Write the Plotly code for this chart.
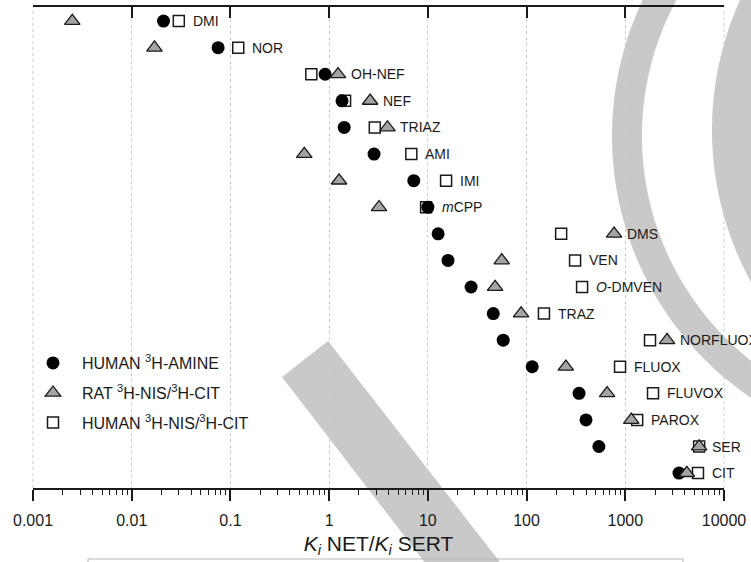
import numpy as np
import plotly.graph_objects as go

# Compounds, ranked by NET/SERT selectivity (top = most NET-selective)
drugs = ["DMI", "NOR", "OH-NEF", "NEF", "TRIAZ", "AMI", "IMI", "mCPP", "DMS",
         "VEN", "O-DMVEN", "TRAZ", "NORFLUOX", "FLUOX", "FLUVOX", "PAROX", "SER", "CIT"]
drug_labels = ["DMI", "NOR", "OH-NEF", "NEF", "TRIAZ", "AMI", "IMI", "<i>m</i>CPP", "DMS",
               "VEN", "<i>O</i>-DMVEN", "TRAZ", "NORFLUOX", "FLUOX", "FLUVOX", "PAROX", "SER", "CIT"]

# Ki NET / Ki SERT ratios
human_amine = [0.021, 0.075, 0.91, 1.35, 1.42, 2.85, 7.2, 10.0, 12.7,
               16.0, 27.4, 46, 58, 114, 340, 400, 540, 3500]
rat_nis_cit = [0.0025, 0.017, 1.23, 2.6, 3.9, 0.56, 1.26, 3.2, 770,
               56, 48, 88, 2650, 250, 655, 1150, 5600, 4200]
human_nis_cit = [0.030, 0.12, 0.66, 1.45, 2.9, 6.8, 15.3, 9.6, 224,
                 310, 365, 150, 1780, 885, 1910, 1320, 5600, 5450]

decade_vals = [0.001, 0.01, 0.1, 1, 10, 100, 1000, 10000]
decade_text = ["0.001", "0.01", "0.1", "1", "10", "100", "1000", "10000"]
minor_vals = [m * d for d in decade_vals[:-1] for m in range(2, 10)]

FONT = "Liberation Sans, Arial, sans-serif"
INK = "#1a1a1a"
GRID = "#cdcdcd"
W, H = 751, 562
PL, PR, PT, PB = 33, 724, 7, 488   # plot-area edges (px)

rows = list(range(len(drugs)))

fig = go.Figure()

fig.add_trace(go.Scatter(
    x=human_nis_cit, y=rows, mode="markers", legendrank=3, legendgroup="c",
    name="HUMAN <sup>3</sup>H-NIS/<sup>3</sup>H-CIT",
    marker=dict(symbol="square", size=11, color="white", line=dict(color=INK, width=1.5)),
))
fig.add_trace(go.Scatter(
    x=human_amine, y=rows, mode="markers", legendrank=1, legendgroup="a",
    name="HUMAN <sup>3</sup>H-AMINE",
    marker=dict(symbol="circle", size=13, color="black", line=dict(color="black", width=0)),
))
fig.add_trace(go.Scatter(
    x=rat_nis_cit, y=rows, mode="markers", legendrank=2, legendgroup="b",
    name="RAT <sup>3</sup>H-NIS/<sup>3</sup>H-CIT",
    marker=dict(symbol="triangle-up", size=13.5, color="#a4a4a4", line=dict(color=INK, width=1.3)),
))
# carrier for the top frame axis
fig.add_trace(go.Scatter(x=[None], y=[None], xaxis="x2", showlegend=False, hoverinfo="skip"))

# compound names to the right of each row's right-most marker
annotations = []
for i, lab in enumerate(drug_labels):
    vals = {"a": human_amine[i], "b": rat_nis_cit[i], "c": human_nis_cit[i]}
    key = max(vals, key=vals.get)
    annotations.append(dict(
        x=np.log10(vals[key]), y=i, xref="x", yref="y", text=lab, showarrow=False,
        xanchor="left", yanchor="middle", xshift=11 if key == "b" else 12,
        font=dict(family=FONT, size=14, color=INK),
    ))


def to_paper(px, py):
    return (px - PL) / (PR - PL), (PB - py) / (PB - PT)


def poly_path(points):
    pts = [to_paper(x, y) for x, y in points]
    return "M " + " L ".join(f"{x:.5f},{y:.5f}" for x, y in pts) + " Z"


def ring(cx, cy, r_out, r_in, a0, a1, n=80):
    ang = np.linspace(a0, a1, n)
    outer = [(cx + r_out * np.cos(a), cy + r_out * np.sin(a)) for a in ang]
    inner = [(cx + r_in * np.cos(a), cy + r_in * np.sin(a)) for a in ang[::-1]]
    return outer + inner


WM = "#c9c9c9"
shapes = [
    # diagonal band
    dict(type="path", xref="paper", yref="paper", layer="below", line=dict(width=0), fillcolor=WM,
         path=poly_path([(282, 377), (328, 341), (545, 620), (469, 620)])),
    # arcs on the right
    dict(type="path", xref="paper", yref="paper", layer="below", line=dict(width=0), fillcolor=WM,
         path=poly_path(ring(928, 136, 316, 286, 2.0, 3.75))),
    dict(type="path", xref="paper", yref="paper", layer="below", line=dict(width=0), fillcolor=WM,
         path=poly_path(ring(1028, 130, 316, 250, 2.0, 3.9))),
    # dotted gridlines on the two range ends
    dict(type="line", xref="paper", yref="paper", layer="below", x0=0, x1=0, y0=0, y1=1,
         line=dict(color=GRID, width=1, dash="dot")),
    dict(type="line", xref="paper", yref="paper", layer="below", x0=1, x1=1, y0=0, y1=1,
         line=dict(color=GRID, width=1, dash="dot")),
    # caption frame under the axis title
    dict(type="rect", xref="paper", yref="paper", layer="below", fillcolor="rgba(0,0,0,0)",
         line=dict(color="#b5b5b5", width=1),
         x0=to_paper(88, 0)[0], x1=to_paper(683, 0)[0],
         y0=to_paper(0, 559)[1], y1=to_paper(0, 600)[1]),
]

fig.update_layout(
    width=W, height=H, autosize=False,
    margin=dict(l=PL, r=W - PR, t=PT, b=H - PB, pad=0),
    paper_bgcolor="white", plot_bgcolor="white",
    font=dict(family=FONT, color=INK),
    showlegend=True,
    legend=dict(x=to_paper(24, 0)[0], y=to_paper(0, 346)[1], xanchor="left", yanchor="top",
                bgcolor="rgba(0,0,0,0)", font=dict(family=FONT, size=16, color=INK),
                itemwidth=48, tracegroupgap=6),
    annotations=annotations,
    shapes=shapes,
    xaxis=dict(
        type="log", range=[-3, 4], automargin=False,
        tickmode="array", tickvals=decade_vals, ticktext=decade_text,
        ticks="outside", ticklen=11, tickwidth=1.6, tickcolor=INK,
        tickfont=dict(family=FONT, size=16, color=INK), ticklabelstandoff=6,
        showline=True, linecolor=INK, linewidth=1.5,
        showgrid=True, gridcolor=GRID, griddash="dot", gridwidth=1,
        zeroline=False,
        minor=dict(tickmode="array", tickvals=minor_vals, ticks="outside", ticklen=5,
                   tickwidth=1.2, tickcolor=INK, showgrid=False),
        title=dict(text="<i>K</i><sub><i>i</i></sub> NET/<i>K</i><sub><i>i</i></sub> SERT",
                   font=dict(family=FONT, size=21, color=INK), standoff=8),
    ),
    xaxis2=dict(
        type="log", range=[-3, 4], overlaying="x", side="top", anchor="y", automargin=False,
        tickmode="array", tickvals=decade_vals, showticklabels=False,
        ticks="inside", ticklen=11, tickwidth=1.6, tickcolor=INK,
        showline=True, linecolor=INK, linewidth=1.5, showgrid=False, zeroline=False,
    ),
    yaxis=dict(
        range=[17.56, -0.53], automargin=False, showgrid=False, zeroline=False,
        showline=False, showticklabels=False, ticks="",
    ),
)

fig.write_html("out.html")
